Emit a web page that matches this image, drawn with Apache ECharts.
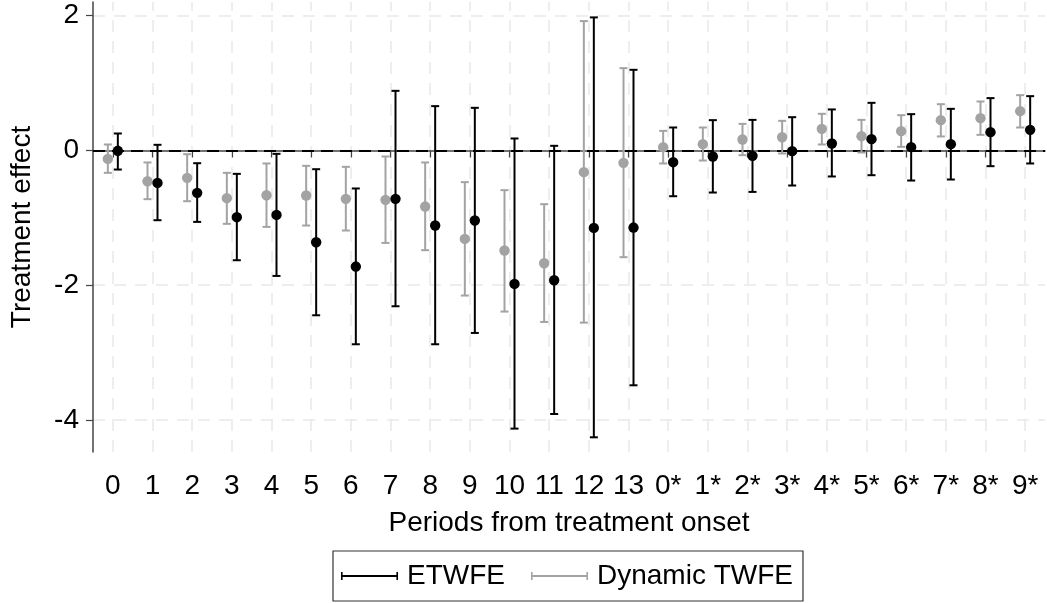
<!DOCTYPE html>
<html>
<head>
<meta charset="utf-8">
<script src="https://cdn.jsdelivr.net/npm/echarts@6/dist/echarts.min.js"></script>
<style>
html,body{margin:0;padding:0;background:#fff;}
#chart{width:1047px;height:603px;}
</style>
</head>
<body>
<div id="chart"></div>
<script>
const categories = ['0','1','2','3','4','5','6','7','8','9','10','11','12','13','0*','1*','2*','3*','4*','5*','6*','7*','8*','9*'];

const etwfe   = [-0.005,-0.481,-0.629,-0.990,-0.956,-1.362,-1.723,-0.718,-1.114,-1.040,-1.980,-1.926,-1.149,-1.144,-0.174,-0.089,-0.080,-0.010,0.104,0.168,0.049,0.094,0.272,0.306];
const etwfeHi = [0.252,0.084,-0.189,-0.347,-0.050,-0.278,-0.564,0.885,0.658,0.633,0.178,0.069,1.975,1.197,0.341,0.450,0.454,0.494,0.609,0.707,0.539,0.618,0.777,0.806];
const etwfeLo = [-0.283,-1.035,-1.060,-1.629,-1.862,-2.446,-2.876,-2.312,-2.876,-2.708,-4.128,-3.911,-4.257,-3.485,-0.679,-0.624,-0.615,-0.520,-0.386,-0.367,-0.446,-0.431,-0.233,-0.193];

const twfe   = [-0.125,-0.456,-0.406,-0.708,-0.664,-0.669,-0.718,-0.733,-0.832,-1.312,-1.485,-1.673,-0.322,-0.184,0.049,0.094,0.163,0.197,0.321,0.212,0.287,0.450,0.480,0.584];
const twfeHi = [0.089,-0.178,-0.055,-0.332,-0.193,-0.228,-0.243,-0.089,-0.178,-0.470,-0.589,-0.797,1.920,1.222,0.291,0.341,0.395,0.440,0.544,0.454,0.524,0.687,0.727,0.821];
const twfeLo = [-0.332,-0.723,-0.753,-1.089,-1.134,-1.114,-1.188,-1.372,-1.480,-2.153,-2.391,-2.545,-2.555,-1.584,-0.193,-0.149,-0.070,-0.045,0.089,-0.030,0.054,0.208,0.232,0.341];

const yTicks = [-4,-2,0,2];
const gridYLines = [-4,-2,2];

const FONT = "'Liberation Sans Narrow','Arial Narrow','Liberation Sans',Arial,sans-serif";
const GRAY = '#a3a3a3';
const BLACK = '#000000';

function buildData(pt, lo, hi){
  return categories.map((c,i)=>[i, lo[i], hi[i], pt[i]]);
}

function errorBarRenderer(color, dx){
  return function(params, api){
    const i = api.value(0);
    const lo = api.coord([i, api.value(1)]);
    const hi = api.coord([i, api.value(2)]);
    const pt = api.coord([i, api.value(3)]);
    const x = pt[0] + dx;
    const cap = 4;
    const ls = {stroke: color, lineWidth: 2};
    return {
      type: 'group',
      children: [
        {type:'line', shape:{x1:x, y1:lo[1], x2:x, y2:hi[1]}, style:ls},
        {type:'line', shape:{x1:x-cap, y1:lo[1], x2:x+cap, y2:lo[1]}, style:ls},
        {type:'line', shape:{x1:x-cap, y1:hi[1], x2:x+cap, y2:hi[1]}, style:ls},
        {type:'circle', shape:{cx:x, cy:pt[1], r:5.2}, style:{fill:color}}
      ]
    };
  };
}

const legendIcon = 'path://M0,0L1.6,0L1.6,8L0,8Z M0,3.1L57,3.1L57,4.9L0,4.9Z M55.4,0L57,0L57,8L55.4,8Z';

const gridMarkData = categories.map(c=>({xAxis:c})).concat(gridYLines.map(v=>({yAxis:v})));

const chart = echarts.init(document.getElementById('chart'), null, {renderer:'canvas'});
chart.setOption({
  backgroundColor: '#ffffff',
  animation: false,
  textStyle: {fontFamily: FONT},
  grid: {left: 92, right: 2, top: 2, bottom: 151, containLabel: false},
  xAxis: {
    type: 'category',
    data: categories,
    boundaryGap: true,
    name: 'Periods from treatment onset',
    nameLocation: 'middle',
    nameGap: 57,
    nameTextStyle: {fontFamily: FONT, fontSize: 28, color: '#000'},
    axisLine: {show: true, lineStyle: {color: '#444', width: 1.5}},
    axisTick: {show: true, alignWithLabel: true, length: 7, lineStyle: {color: '#444', width: 1.2}},
    axisLabel: {fontFamily: FONT, fontSize: 28, color: '#000', margin: 20, interval: 0},
    splitLine: {show: false}
  },
  yAxis: {
    type: 'value',
    min: -4.475,
    max: 2.2035,
    name: 'Treatment effect',
    nameLocation: 'middle',
    nameRotate: 90,
    nameGap: 57,
    nameTextStyle: {fontFamily: FONT, fontSize: 28, color: '#000'},
    axisLine: {show: true, lineStyle: {color: '#444', width: 1.5}},
    axisTick: {show: true, length: 7, customValues: yTicks, lineStyle: {color: '#444', width: 1.2}},
    axisLabel: {fontFamily: FONT, fontSize: 28, color: '#000', margin: 14, customValues: yTicks},
    splitLine: {show: false}
  },
  legend: {
    left: 333,
    top: 551,
    orient: 'horizontal',
    borderColor: '#333',
    borderWidth: 1.2,
    padding: [11, 10, 11, 8],
    itemWidth: 57,
    itemHeight: 8,
    itemGap: 26,
    textStyle: {fontFamily: FONT, fontSize: 28, color: '#000', padding: [0, 0, 0, 4]},
    data: [
      {name: 'ETWFE', icon: legendIcon, itemStyle: {color: BLACK}},
      {name: 'Dynamic TWFE', icon: legendIcon, itemStyle: {color: GRAY}}
    ]
  },
  series: [
    {
      name: 'grid',
      type: 'line',
      data: [],
      silent: true,
      z: 0,
      markLine: {
        silent: true,
        z: 0,
        symbol: ['none','none'],
        label: {show: false},
        animation: false,
        lineStyle: {color: '#e9e9e9', width: 1.5, type: [12, 9]},
        data: gridMarkData
      }
    },
    {
      name: 'zero',
      type: 'line',
      data: [],
      silent: true,
      z: 1,
      markLine: {
        silent: true,
        z: 1,
        symbol: ['none','none'],
        label: {show: false},
        animation: false,
        lineStyle: {color: '#000', width: 2, type: [12, 7]},
        data: [{yAxis: 0}]
      }
    },
    {
      name: 'Dynamic TWFE',
      type: 'custom',
      z: 2,
      itemStyle: {color: GRAY},
      renderItem: errorBarRenderer(GRAY, -5),
      encode: {x: 0, y: [1,2,3]},
      data: buildData(twfe, twfeLo, twfeHi)
    },
    {
      name: 'ETWFE',
      type: 'custom',
      z: 3,
      itemStyle: {color: BLACK},
      renderItem: errorBarRenderer(BLACK, 5),
      encode: {x: 0, y: [1,2,3]},
      data: buildData(etwfe, etwfeLo, etwfeHi)
    }
  ]
});
</script>
</body>
</html>
